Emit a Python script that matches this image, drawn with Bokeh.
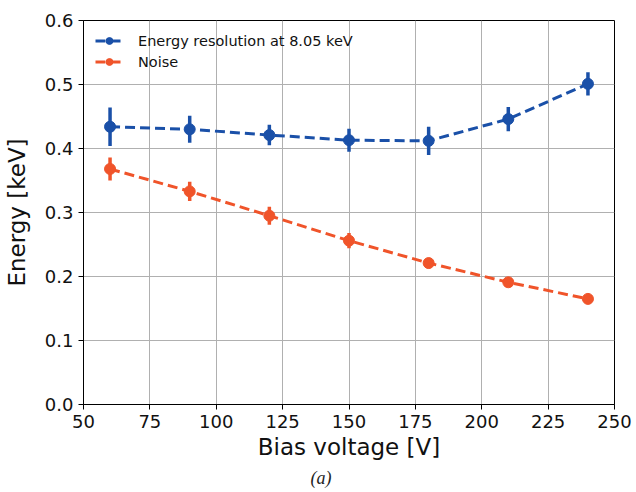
import math
from bokeh.plotting import figure
from bokeh.models import (ColumnDataSource, FixedTicker, PrintfTickFormatter,
                          Legend, LegendItem, Title)
from bokeh.embed import file_html
from bokeh.resources import INLINE

# ---- data ----
bias_voltage = [60, 90, 120, 150, 180, 210, 240]
resolution = [0.434, 0.430, 0.421, 0.413, 0.412, 0.446, 0.501]
resolution_err = [0.030, 0.021, 0.016, 0.018, 0.022, 0.019, 0.018]
noise = [0.368, 0.333, 0.295, 0.256, 0.221, 0.191, 0.165]
noise_err = [0.018, 0.015, 0.014, 0.012, 0.008, 0.005, 0.004]

x_ticks = [50, 75, 100, 125, 150, 175, 200, 225, 250]
y_ticks = [0.0, 0.1, 0.2, 0.3, 0.4, 0.5, 0.6]

series_labels = ["Energy resolution at 8.05 keV", "Noise"]
colors = ["#1a50a8", "#f0542a"]
caption_text = "(a)"

FONT = "DejaVu Sans"

p = figure(width=636, height=492, x_range=(50, 250), y_range=(0, 0.6),
           output_backend="svg", toolbar_location=None,
           min_border_left=83, min_border_right=22,
           min_border_top=20, min_border_bottom=88)

p.background_fill_color = "white"
p.border_fill_color = "white"
p.outline_line_color = "black"
p.outline_line_width = 1

# axes
p.xaxis.ticker = FixedTicker(ticks=x_ticks)
p.yaxis.ticker = FixedTicker(ticks=y_ticks)
p.yaxis.formatter = PrintfTickFormatter(format="%.1f")
for ax in (p.xaxis[0], p.yaxis[0]):
    ax.major_label_text_font = FONT
    ax.major_label_text_font_size = "18px"
    ax.major_label_text_color = "#111111"
    ax.axis_label_text_font = FONT
    ax.axis_label_text_font_size = "23px"
    ax.axis_label_text_font_style = "normal"
    ax.axis_label_text_color = "#111111"
    ax.major_tick_in = 0
    ax.major_tick_out = 5
    ax.minor_tick_in = 0
    ax.minor_tick_out = 0
    ax.axis_line_color = "black"
    ax.major_tick_line_color = "black"
p.xaxis.axis_label = "Bias voltage [V]"
p.yaxis.axis_label = "Energy [keV]"
p.xaxis.major_label_standoff = 5
p.yaxis.major_label_standoff = 5
p.xaxis.axis_label_standoff = 3
p.yaxis.axis_label_standoff = 12

p.grid.grid_line_color = "#b0b0b0"
p.grid.grid_line_width = 1

items = []
for ys, errs, label, col in [(resolution, resolution_err, series_labels[0], colors[0]),
                             (noise, noise_err, series_labels[1], colors[1])]:
    src = ColumnDataSource(dict(
        x=bias_voltage, y=ys,
        lo=[v - e for v, e in zip(ys, errs)],
        hi=[v + e for v, e in zip(ys, errs)],
    ))
    ln = p.line("x", "y", source=src, line_color=col, line_width=3,
                line_dash="10 5")
    eb = p.segment(x0="x", y0="lo", x1="x", y1="hi", source=src,
                   line_color=col, line_width=3.5)
    mk = p.scatter("x", "y", source=src, marker="circle", size=11,
                   fill_color=col, line_color=col)
    # legend-only vertical bar (placed outside the visible range)
    vb = p.scatter(x=[-1000], y=[-1000], marker="dash", angle=math.pi / 2,
                   size=13, line_color=col, line_width=3.5)
    items.append(LegendItem(label=label, renderers=[ln, mk, vb]))

legend = Legend(items=items, location="top_left")
legend.background_fill_alpha = 0
legend.border_line_alpha = 0
legend.margin = 0
legend.padding = 12
legend.spacing = 4
legend.glyph_width = 28
legend.glyph_height = 17
legend.label_height = 17
legend.label_standoff = 15
legend.label_text_font = FONT
legend.label_text_font_size = "14.5px"
legend.label_text_color = "#111111"
p.add_layout(legend)

caption = Title(text=caption_text, align="left", offset=227,
                text_font="Liberation Serif", text_font_style="italic",
                text_font_size="18px", text_color="#222222", standoff=6)
p.add_layout(caption, "below")

open("out.html", "w").write(file_html(p, INLINE))
